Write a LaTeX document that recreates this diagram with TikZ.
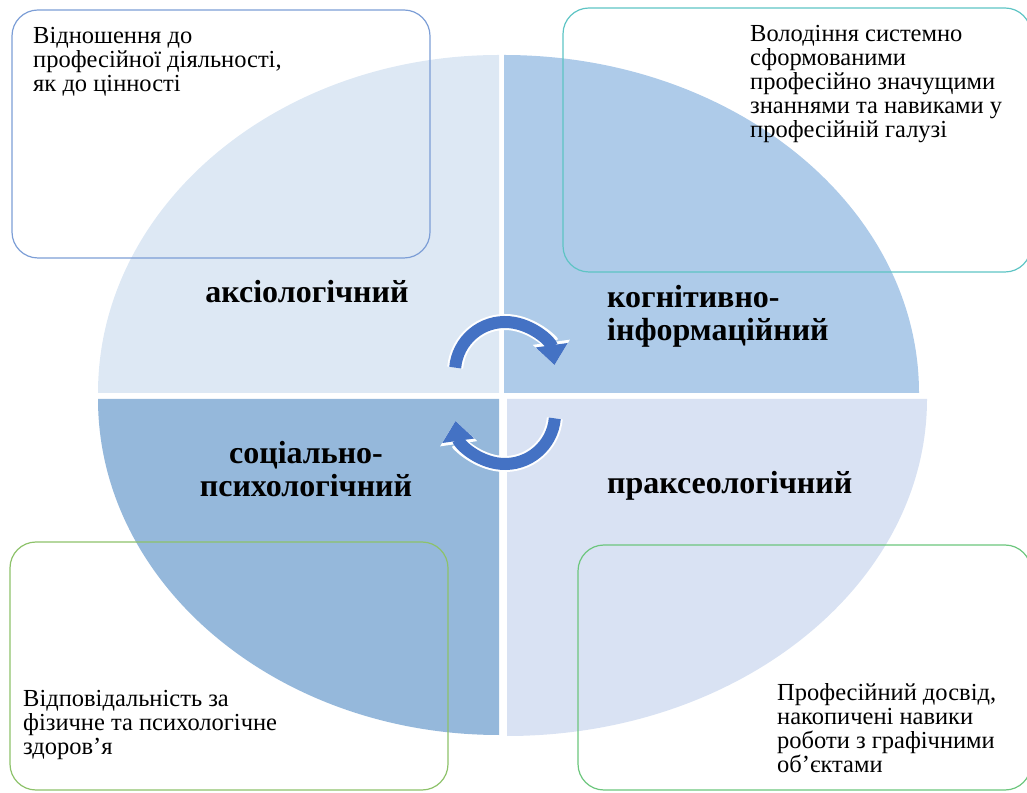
\documentclass[tikz,border=0pt]{standalone}
\usepackage{fontspec}
\setmainfont{Liberation Serif}
\usetikzlibrary{arrows.meta,positioning}
\definecolor{qaxio}{HTML}{DDE8F4}
\definecolor{qcogn}{HTML}{AECBE9}
\definecolor{qsoc}{HTML}{95B8DB}
\definecolor{qprax}{HTML}{D9E2F3}
\definecolor{cycblue}{HTML}{4472C4}
\definecolor{boxblue}{HTML}{7C9ED6}
\definecolor{boxteal}{HTML}{5EC4C4}
\definecolor{boxgreen}{HTML}{8DC26A}
\definecolor{boxmint}{HTML}{6CC67D}
\tikzset{
  frame/.style={draw, rounded corners=26pt, line width=1.2pt, inner sep=0pt, outer sep=0pt},
  note/.style={align=left, inner sep=0pt, font=\fontsize{24.5}{24}\selectfont},
  part/.style={inner sep=0pt, font=\fontsize{32}{33}\selectfont\bfseries}
}
\begin{document}
\begin{tikzpicture}[x=1pt,y=1pt]
\useasboundingbox (0,0) rectangle (1027,792);
% quadrants
\fill[qaxio] (499,399) -- (98,399) arc[start angle=180,end angle=90,x radius=401,y radius=338] -- cycle;
\fill[qcogn] (504,399) -- (919,399) arc[start angle=0,end angle=90,x radius=415,y radius=338] -- cycle;
\fill[qsoc] (499,393) -- (98,393) arc[start angle=180,end angle=270,x radius=401,y radius=336] -- cycle;
\fill[qprax] (507,393) -- (927,393) arc[start angle=0,end angle=-90,x radius=420,y radius=337] -- cycle;
% cycle arrows
\coordinate (topc) at (505,420);
\coordinate (botc) at (505,378);
\draw[white, line width=16pt, -{Triangle[length=23pt,width=36pt]}] ([shift={(175:50)}]topc) arc[start angle=175,end angle=8,radius=50];
\draw[cycblue, line width=12pt, -{Triangle[length=20pt,width=31pt]}] ([shift={(175:50)}]topc) arc[start angle=175,end angle=8,radius=50];
\draw[white, line width=16pt, -{Triangle[length=23pt,width=36pt]}] ([shift={(-5:50)}]botc) arc[start angle=-5,end angle=-172,radius=50];
\draw[cycblue, line width=12pt, -{Triangle[length=20pt,width=31pt]}] ([shift={(-5:50)}]botc) arc[start angle=-5,end angle=-172,radius=50];
% component names
\node[part, anchor=base] (axio) at (307,489) {аксіологічний};
\node[part, anchor=base west, align=left] (cogn) at (607,451) {когнітивно-\\інформаційний};
\node[part, anchor=base, align=center] (soc) at (306,295) {соціально-\\психологічний};
\node[part, anchor=base west] (prax) at (607,298) {праксеологічний};
% description boxes
\node[frame, draw=boxblue, minimum width=418pt, minimum height=248pt] (axbox) at (221,658) {};
\node[frame, draw=boxteal, minimum width=468pt, minimum height=264pt] (cognbox) at (797,652) {};
\node[frame, draw=boxgreen, minimum width=438pt, minimum height=248pt] (socbox) at (229,126) {};
\node[frame, draw=boxmint, minimum width=453pt, minimum height=245pt] (praxbox) at (804.5,124.5) {};
\node[note, below right=17pt and 21pt of axbox.north west] (axnote) {Відношення до\\професійної діяльності,\\як до цінності};
\node[note, below right=17pt and 187pt of cognbox.north west] (cognnote) {Володіння системно\\сформованими\\професійно значущими\\знаннями та навиками у\\професійній галузі};
\node[note, below right=148pt and 13pt of socbox.north west] (socnote) {Відповідальність за\\фізичне та психологічне\\здоров’я};
\node[note, below right=138pt and 199pt of praxbox.north west] (praxnote) {Професійний досвід,\\накопичені навики\\роботи з графічними\\об’єктами};
\end{tikzpicture}
\end{document}
